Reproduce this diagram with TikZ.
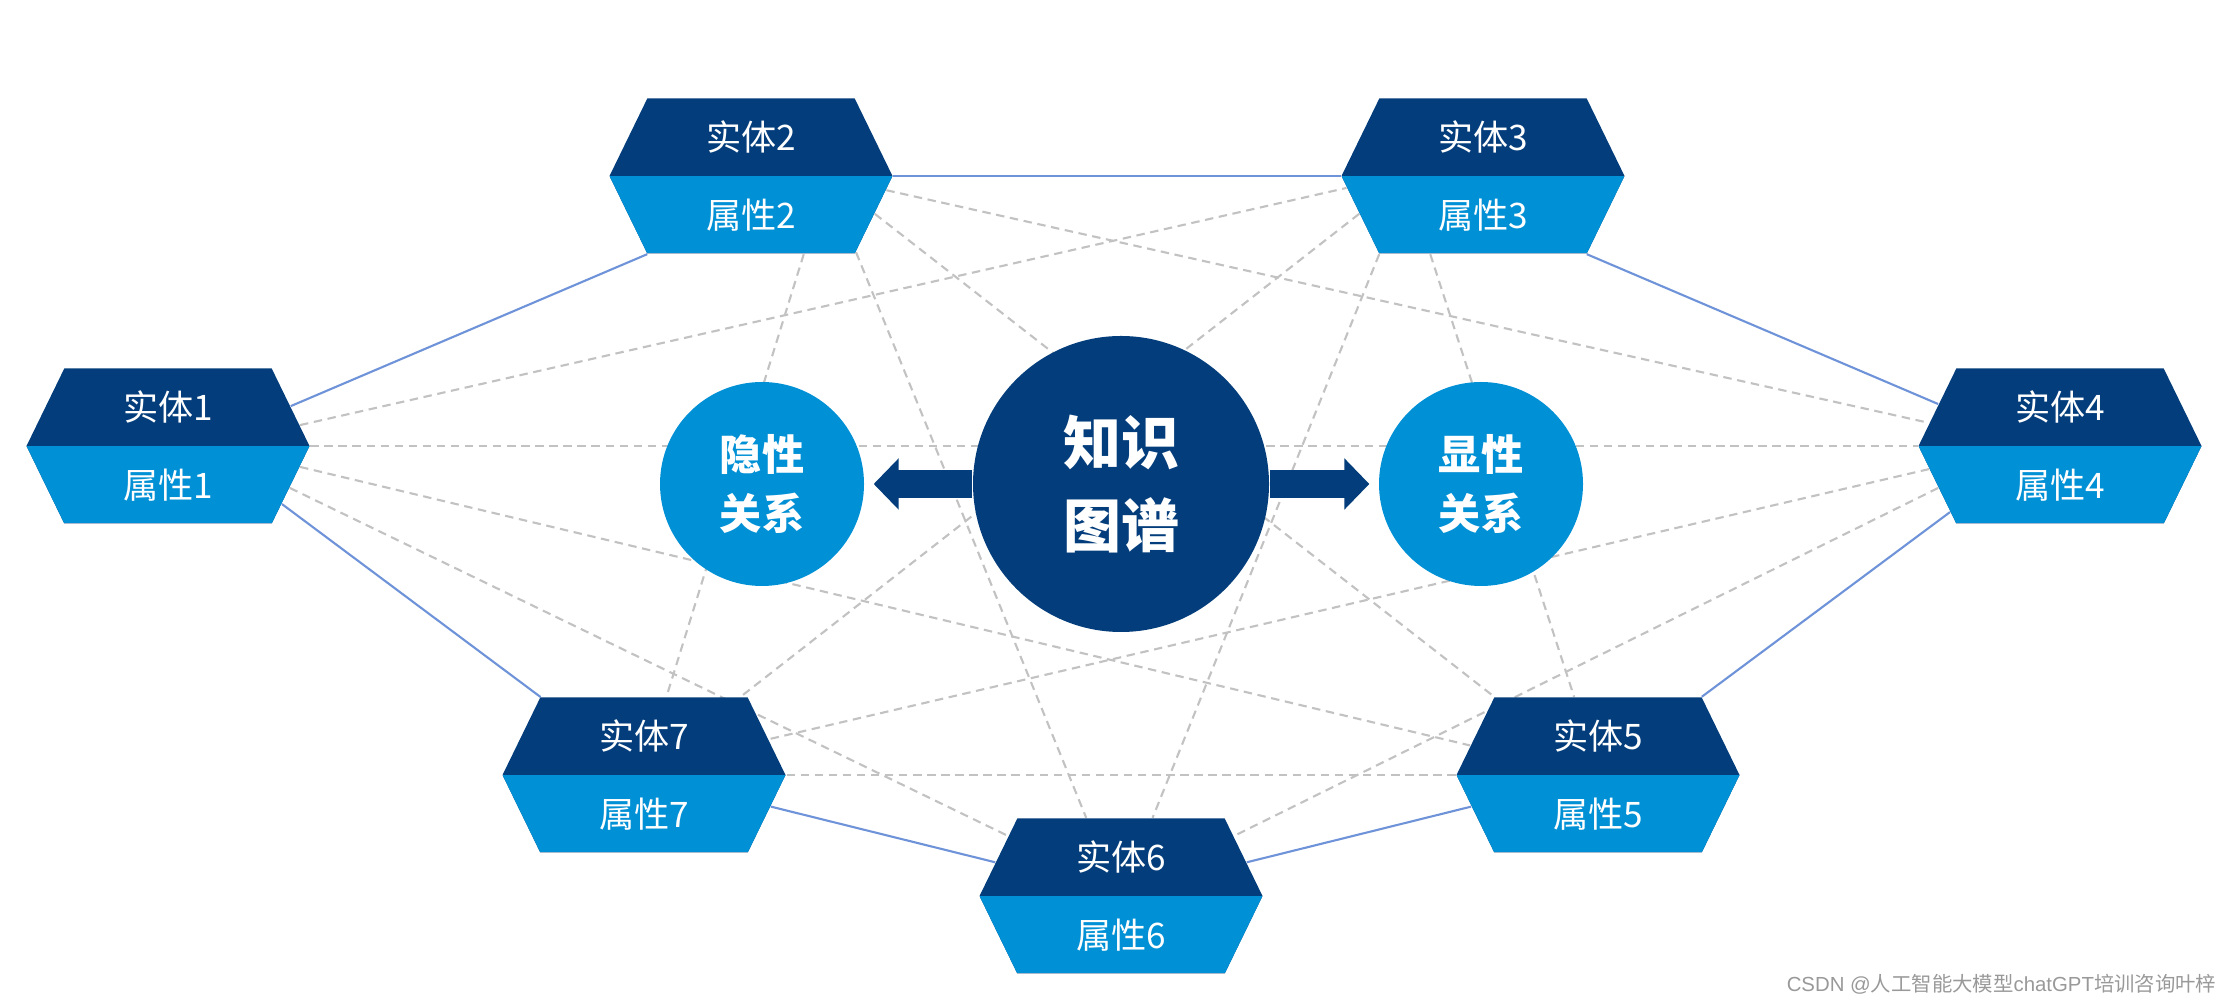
\documentclass[tikz,border=0pt]{standalone}
\usepackage{fontspec}
\setmainfont{Noto Sans CJK SC}
\newfontfamily\marklatin{Liberation Sans}
\usepackage{xcolor}
\usepackage{tikz}
\usetikzlibrary{shapes.symbols,arrows.meta}

\definecolor{kgnavy}{HTML}{033D7B}
\definecolor{kgblue}{HTML}{0090D5}
\definecolor{edgeblue}{HTML}{6F93D8}
\definecolor{dashgray}{HTML}{C2C2C2}

\pgfdeclarelayer{background}
\pgfsetlayers{background,main}

\begin{document}
\begin{tikzpicture}[
  hex/.style={signal, signal to=east and west, signal pointer angle=128,
    minimum width=2.83cm, minimum height=1.55cm,
    inner sep=0pt, fill=kgnavy, text=white, align=center,
    font=\fontsize{10}{22}\selectfont,
    path picture={\fill[kgblue] (path picture bounding box.west) rectangle (path picture bounding box.south east);}},
  bubble/.style={circle, fill=kgblue, minimum size=2.04cm, inner sep=0pt, text=white,
    align=center, font=\bfseries\fontsize{12}{17}\selectfont},
  push/.style={draw=kgnavy, line width=0.28cm, -{Triangle[width=0.5cm,length=0.25cm]}, shorten >=0.09cm},
  link/.style={draw=edgeblue, line width=0.6pt},
  hint/.style={draw=dashgray, line width=0.6pt, dash pattern=on 2.4pt off 1.6pt}]

  \useasboundingbox (0,0) rectangle (22.32,-10.03);

  % Entities
  \node[hex] (h1) at (1.68,-4.46) {实体1\\属性1};
  \node[hex] (h2) at (7.51,-1.76) {实体2\\属性2};
  \node[hex] (h3) at (14.83,-1.76) {实体3\\属性3};
  \node[hex] (h4) at (20.60,-4.46) {实体4\\属性4};
  \node[hex] (h5) at (15.98,-7.75) {实体5\\属性5};
  \node[hex] (h6) at (11.21,-8.96) {实体6\\属性6};
  \node[hex] (h7) at (6.44,-7.75) {实体7\\属性7};

  % Core and relations
  \node[circle, fill=kgnavy, minimum size=2.96cm, inner sep=0pt, text=white, align=center,
    font=\bfseries\fontsize{16.5}{23.6}\selectfont] (kg) at (11.21,-4.84) {知识\\图谱};
  \node[bubble] (implicit) at (7.62,-4.84) {隐性\\关系};
  \node[bubble] (explicit) at (14.81,-4.84) {显性\\关系};

  \draw[push] (kg.west) -- (implicit.east);
  \draw[push] (kg.east) -- (explicit.west);

  \begin{pgfonlayer}{background}
    % outer ring
    \draw[link] (h1.18) -- (h2.217);
    \draw[link] (h2.east) -- (h3.west);
    \draw[link] (h3.323) -- (h4.161);
    \draw[link] (h4.211) -- (h5.37);
    \draw[link] (h5.194) -- (h6.15);
    \draw[link] (h6.165) -- (h7.346);
    \draw[link] (h7.143) -- (h1.333);

    % hidden links
    \draw[hint] (h1.9) -- (h3.185);
    \draw[hint] (h1.east) -- (h4.west);
    \draw[hint] (h1.351) -- (h5.167);
    \draw[hint] (h1.341) -- (h6.152);
    \draw[hint] (h2.354) -- (h4.170);
    \draw[hint] (h2.343) -- (h5.143);
    \draw[hint] (h2.324) -- (h6.114);
    \draw[hint] (h2.304) -- (h7.74);
    \draw[hint] (h3.236) -- (h5.107);
    \draw[hint] (h3.217) -- (h6.68);
    \draw[hint] (h3.197) -- (h7.39);
    \draw[hint] (h4.199) -- (h6.28);
    \draw[hint] (h4.190) -- (h7.16);
    \draw[hint] (h5.west) -- (h7.east);
  \end{pgfonlayer}

  \node[anchor=east, inner sep=0pt, text=black!40, font=\fontsize{5.8}{7}\selectfont] (mark) at (22.17,-9.84)
    {{\marklatin CSDN @}人工智能大模型{\marklatin chatGPT}培训咨询叶梓};
\end{tikzpicture}
\end{document}
